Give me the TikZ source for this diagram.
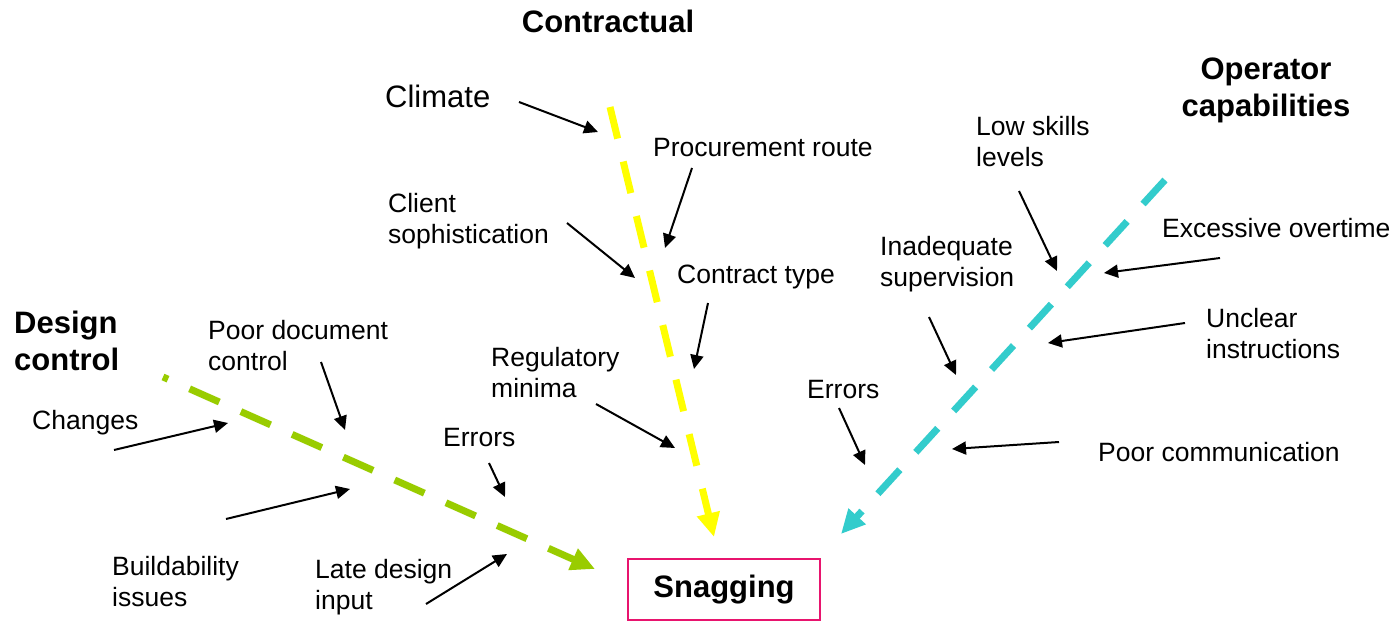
\documentclass[tikz,border=0pt]{standalone}
\usepackage{fontspec}
\setmainfont{Liberation Sans}
\usetikzlibrary{arrows.meta}

\definecolor{contractyellow}{RGB}{255,255,0}
\definecolor{designgreen}{RGB}{153,204,0}
\definecolor{operatorcyan}{RGB}{51,204,204}
\definecolor{snagred}{RGB}{232,20,110}

\begin{document}
\begin{tikzpicture}[x=1pt,y=-1pt,
  % multi-line labels are placed by the baseline of their last line
  lbl/.style={inner sep=0pt, anchor=base west, align=left,
              font=\fontsize{26.5}{31}\selectfont},
  biglbl/.style={lbl, font=\fontsize{31}{37}\selectfont},
  heading/.style={inner sep=0pt, anchor=base, align=center,
              font=\fontsize{31}{37}\selectfont\bfseries},
  cause/.style={line width=2pt, -{Triangle[length=14pt,width=13pt]}},
  branch/.style={line width=7pt, dash pattern=on 32.5pt off 23.6pt,
              -{Triangle[length=24pt,width=22pt]}},
  effect/.style={draw=snagred, line width=2.2pt, inner sep=0pt,
              minimum width=192pt, minimum height=61pt,
              font=\fontsize{31}{37}\selectfont\bfseries}]

% canvas
\fill[white] (0,0) rectangle (1397,623);
\useasboundingbox (0,0) rectangle (1397,623);

% effect
\node[effect] (snag) at (724,589.5) {Snagging};

% category headings
\node[heading] (contractual) at (608,33) {Contractual};
\node[heading, anchor=base west, align=left] (design) at (14,370) {Design\\control};
\node[heading] (operator) at (1266,117) {Operator\\capabilities};

% main branches
\coordinate (ys) at (610,107);  \coordinate (yt) at (714,537);
\coordinate (gs) at (163,377);  \coordinate (gt) at (595,569);
\coordinate (cs) at (1165,180); \coordinate (ct) at (841,534);
\draw[branch, draw=contractyellow] (ys) -- (yt);
\draw[branch, draw=designgreen, dash phase=27pt] (gs) -- (gt);
\draw[branch, draw=operatorcyan] (cs) -- (ct);

% contractual causes
\node[biglbl] (climate) at (385,108) {Climate};
\node[lbl] (procure) at (653,157) {Procurement route};
\node[lbl] (client) at (388,243) {Client\\sophistication};
\node[lbl] (ctype) at (677,283) {Contract type};
\node[lbl] (regmin) at (491,397) {Regulatory\\minima};

\coordinate (climateA) at (519,102);  \coordinate (climateB) at (598,132);
\coordinate (procureA) at (692,168);  \coordinate (procureB) at (665,248);
\coordinate (clientA) at (567,223);   \coordinate (clientB) at (635,278);
\coordinate (ctypeA) at (708,303);    \coordinate (ctypeB) at (694,369);
\coordinate (regminA) at (596,404);   \coordinate (regminB) at (675,448);
\draw[cause] (climateA) -- (climateB);
\draw[cause] (procureA) -- (procureB);
\draw[cause] (clientA) -- (clientB);
\draw[cause] (ctypeA) -- (ctypeB);
\draw[cause] (regminA) -- (regminB);

% design control causes
\node[lbl] (poordoc) at (208,370) {Poor document\\control};
\node[lbl] (changes) at (32,429) {Changes};
\node[lbl] (errorsL) at (443,446) {Errors};
\node[lbl] (build) at (112,606) {Buildability\\issues};
\node[lbl] (late) at (315,609) {Late design\\input};

\coordinate (poordocA) at (321,362);  \coordinate (poordocB) at (345,430);
\coordinate (changesA) at (114,450);  \coordinate (changesB) at (228,423);
\coordinate (buildA) at (226,519);    \coordinate (buildB) at (350,489);
\coordinate (errorsLA) at (489,463);  \coordinate (errorsLB) at (505,497);
\coordinate (lateA) at (426,604);     \coordinate (lateB) at (507,554);
\draw[cause] (poordocA) -- (poordocB);
\draw[cause] (changesA) -- (changesB);
\draw[cause] (buildA) -- (buildB);
\draw[cause] (errorsLA) -- (errorsLB);
\draw[cause] (lateA) -- (lateB);

% operator capability causes
\node[lbl] (lowskill) at (976,166) {Low skills\\levels};
\node[lbl] (inadeq) at (880,286) {Inadequate\\supervision};
\node[lbl] (overtime) at (1162,237) {Excessive overtime};
\node[lbl] (unclear) at (1206,358) {Unclear\\instructions};
\node[lbl] (errorsR) at (807,398) {Errors};
\node[lbl] (poorcomm) at (1098,461) {Poor communication};

\coordinate (lowskillA) at (1019,191); \coordinate (lowskillB) at (1057,271);
\coordinate (overtimeA) at (1220,258); \coordinate (overtimeB) at (1104,273);
\coordinate (inadeqA) at (929,317);    \coordinate (inadeqB) at (956,375);
\coordinate (unclearA) at (1185,323);  \coordinate (unclearB) at (1048,343);
\coordinate (errorsRA) at (839,408);   \coordinate (errorsRB) at (865,465);
\coordinate (poorcommA) at (1059,442); \coordinate (poorcommB) at (952,449);
\draw[cause] (lowskillA) -- (lowskillB);
\draw[cause] (overtimeA) -- (overtimeB);
\draw[cause] (inadeqA) -- (inadeqB);
\draw[cause] (unclearA) -- (unclearB);
\draw[cause] (errorsRA) -- (errorsRB);
\draw[cause] (poorcommA) -- (poorcommB);
\end{tikzpicture}
\end{document}
